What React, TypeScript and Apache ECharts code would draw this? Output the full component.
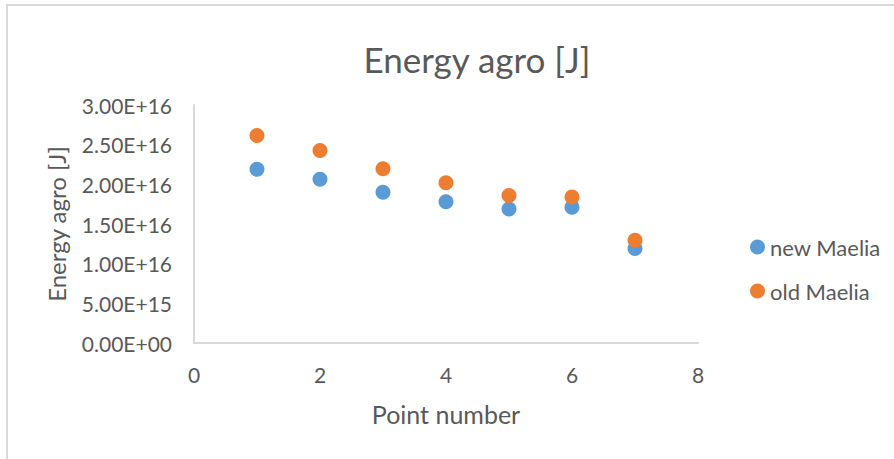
import React, { useEffect, useRef } from "react";
import * as echarts from "echarts";

const pointNumbers = [1, 2, 3, 4, 5, 6, 7];
const newMaelia = [2.19e16, 2.065e16, 1.9e16, 1.78e16, 1.69e16, 1.71e16, 1.19e16];
const oldMaelia = [2.615e16, 2.425e16, 2.195e16, 2.02e16, 1.86e16, 1.84e16, 1.295e16];
const seriesNames = ["new Maelia", "old Maelia"];
const colors = ["#5B9BD5", "#ED7D31"];

const FONT = "Lato, 'Open Sans', sans-serif";
const TEXT = "#595959";

function fmtExp(v: number): string {
  if (v === 0) return "0.00E+00";
  const e = Math.floor(Math.log10(Math.abs(v)));
  const m = v / Math.pow(10, e);
  return m.toFixed(2) + "E+" + String(e).padStart(2, "0");
}

export default function App() {
  const ref = useRef<HTMLDivElement>(null);
  useEffect(() => {
    document.body.style.margin = "0";
    if (!ref.current) return;
    const chart = echarts.init(ref.current, undefined, { renderer: "svg" });
    const mk = (vals: number[]) => pointNumbers.map((x, i) => [x, vals[i]]);
    chart.setOption({
      animation: false,
      backgroundColor: "#ffffff",
      textStyle: { fontFamily: FONT },
      title: {
        text: "Energy agro [J]",
        left: 472,
        top: 36,
        textAlign: "center",
        textStyle: { fontFamily: FONT, fontSize: 35, fontWeight: "normal", color: TEXT },
      },
      graphic: [
        {
          type: "rect",
          shape: { x: 7, y: 5, width: 900, height: 470 },
          style: { fill: "none", stroke: "#d9d9d9", lineWidth: 2 },
          silent: true,
        },
      ],
      legend: {
        orient: "vertical",
        left: 745,
        top: 231,
        itemWidth: 15,
        itemHeight: 15,
        itemGap: 22,
        icon: "circle",
        textStyle: { fontFamily: FONT, fontSize: 22, color: TEXT },
        data: seriesNames,
      },
      grid: { left: 194, top: 105, right: 196, bottom: 116, containLabel: false },
      xAxis: {
        type: "value",
        min: 0,
        max: 8,
        interval: 2,
        name: "Point number",
        nameLocation: "middle",
        nameGap: 58,
        nameTextStyle: { fontFamily: FONT, fontSize: 25, color: TEXT },
        axisLine: { show: true, lineStyle: { color: "#d9d9d9", width: 2 } },
        axisTick: { show: false },
        splitLine: { show: false },
        axisLabel: { fontFamily: FONT, fontSize: 21, color: TEXT, margin: 21 },
      },
      yAxis: {
        type: "value",
        min: 0,
        max: 3e16,
        interval: 5e15,
        name: "Energy agro [J]",
        nameLocation: "middle",
        nameGap: 126,
        nameTextStyle: { fontFamily: FONT, fontSize: 24, color: TEXT },
        axisLine: { show: true, lineStyle: { color: "#d9d9d9", width: 2 } },
        axisTick: { show: false },
        splitLine: { show: false },
        axisLabel: { fontFamily: FONT, fontSize: 21, color: TEXT, margin: 22, formatter: (v: number) => fmtExp(v) },
      },
      series: [
        {
          name: seriesNames[0],
          type: "scatter",
          symbol: "circle",
          symbolSize: 15,
          itemStyle: { color: colors[0], opacity: 1 },
          data: mk(newMaelia),
        },
        {
          name: seriesNames[1],
          type: "scatter",
          symbol: "circle",
          symbolSize: 15,
          itemStyle: { color: colors[1], opacity: 1 },
          data: mk(oldMaelia),
        },
      ],
    });
    return () => chart.dispose();
  }, []);
  return <div ref={ref} style={{ width: 894, height: 459 }} />;
}
